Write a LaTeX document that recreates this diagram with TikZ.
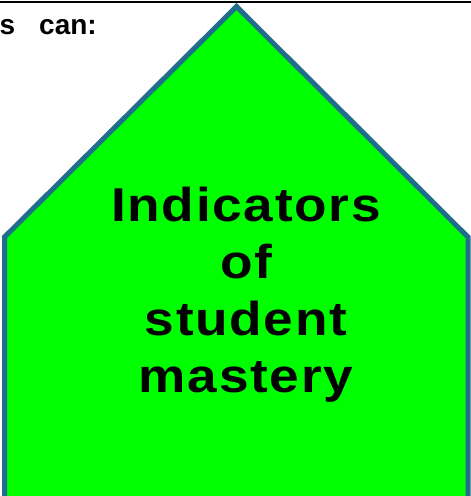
\documentclass[tikz,border=0pt]{standalone}
\usepackage{fontspec}
\setmainfont{Liberation Sans}
\newfontfamily\spacedfont[LetterSpace=3.5,FakeStretch=1.12]{Liberation Sans}
\definecolor{housegreen}{RGB}{0,255,0}
\definecolor{houseedge}{RGB}{33,110,140}
\begin{document}
\begin{tikzpicture}[x=1pt,y=-1pt,
  housestyle/.style={fill=housegreen,draw=houseedge,line width=5pt,line join=miter},
  titletext/.style={font=\bfseries\fontsize{28}{34}\selectfont,inner sep=0pt},
  housetext/.style={font=\spacedfont\bfseries\fontsize{47.5}{57}\selectfont,align=center,text width=420pt,inner sep=0pt}]
\useasboundingbox (0,0) rectangle (471,496);
\clip (0,0) rectangle (471,496);
\draw[housestyle] (4.5,520) -- (4.5,237) -- (236.5,6.5) -- (468,237) -- (468,520);
\coordinate (lineL) at (0,2);
\coordinate (lineR) at (471,2);
\draw[black,line width=2pt] (lineL) -- (lineR);
\node[titletext,anchor=base east] (title) at (97,34) {s\hspace{24pt}can:};
\node[housetext,anchor=base] (label) at (246,221) {Indicators\\of\\student\\mastery};
\end{tikzpicture}
\end{document}
